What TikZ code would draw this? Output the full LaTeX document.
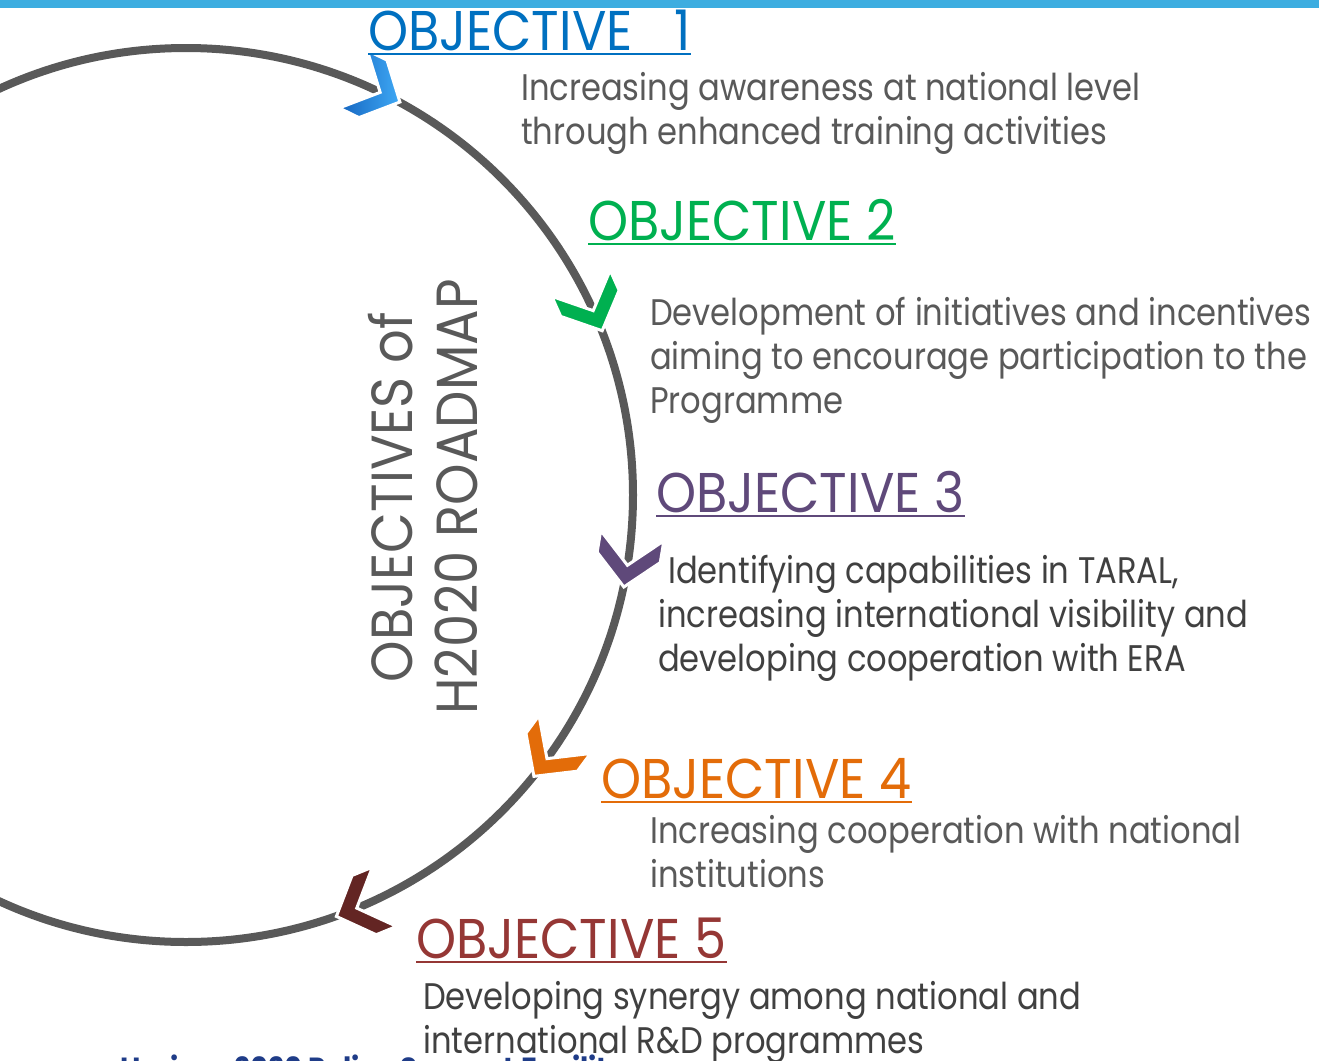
\documentclass[tikz,border=0pt]{standalone}
\usepackage{fontspec}
\setmainfont{Poppins}
\newfontfamily\headfont[FakeStretch=0.91]{Poppins}
\newfontfamily\bodyfont[FakeStretch=0.87]{Poppins}
\definecolor{barblue}{HTML}{3DADE0}
\definecolor{ringgray}{HTML}{595959}
\definecolor{txtgray}{HTML}{595959}
\definecolor{txtdark}{HTML}{404040}
\definecolor{oblue}{HTML}{0070C0}
\definecolor{ogreen}{HTML}{00B050}
\definecolor{opurple}{HTML}{5F497A}
\definecolor{oorange}{HTML}{E36C09}
\definecolor{ored}{HTML}{953735}
\definecolor{cbluelight}{HTML}{3FA9F5}
\definecolor{cbluedark}{HTML}{1565C0}
\definecolor{cgreen}{HTML}{00B050}
\definecolor{cpurple}{HTML}{5F497A}
\definecolor{corange}{HTML}{E36C09}
\definecolor{cred}{HTML}{632523}
\definecolor{footblue}{HTML}{1F3C88}
\tikzset{
  ring/.style={draw=ringgray, line width=8pt},
  heading/.style={anchor=base west, inner sep=0pt, font=\headfont\fontsize{56}{60}\selectfont},
  desc/.style={anchor=base west, inner sep=0pt, align=left, text=txtgray, font=\bodyfont\fontsize{37}{44}\selectfont},
  chev/.style={draw=white, line width=3pt, line join=miter},
  uline/.style={line width=2pt}
}
\begin{document}
\begin{tikzpicture}[x=1pt,y=-1pt]
\useasboundingbox (0,0) rectangle (1319,1060);
\fill[white] (0,0) rectangle (1319,1060);
\fill[barblue] (0,0) rectangle (1319,8);
\coordinate (C) at (186,495);
\draw[ring] (C) circle[radius=447];
% chevrons
\begin{scope}[shift={(C)}, rotate=64]
  \filldraw[chev, left color=cbluedark, right color=cbluelight] (447,20) -- (479,-10) -- (479,-32) -- (447,-2) -- (415,-32) -- (415,-10) -- cycle;
\end{scope}
\foreach \ang/\col in {24.1/cgreen, -9.3/cpurple, -36.4/corange, -67.8/cred} {
  \begin{scope}[shift={(C)}, rotate=\ang]
    \filldraw[chev, fill=\col] (447,20) -- (479,-10) -- (479,-32) -- (447,-2) -- (415,-32) -- (415,-10) -- cycle;
  \end{scope}
}
% headings
\node[heading, text=oblue] (h1) at (368,50) {OBJECTIVE \hspace{28pt}1};
\node[heading, text=ogreen] (h2) at (588,240) {OBJECTIVE 2};
\node[heading, text=opurple] (h3) at (656,512) {OBJECTIVE 3};
\node[heading, text=oorange] (h4) at (601,798) {OBJECTIVE 4};
\node[heading, text=ored] (h5) at (416,958) {OBJECTIVE 5};
\draw[uline, oblue] ([yshift=-4pt]h1.base west) -- ([yshift=-4pt]h1.base east);
\draw[uline, ogreen] ([yshift=-4pt]h2.base west) -- ([yshift=-4pt]h2.base east);
\draw[uline, opurple] ([yshift=-4pt]h3.base west) -- ([yshift=-4pt]h3.base east);
\draw[uline, oorange] ([yshift=-4pt]h4.base west) -- ([yshift=-4pt]h4.base east);
\draw[uline, ored] ([yshift=-4pt]h5.base west) -- ([yshift=-4pt]h5.base east);
% descriptions (anchor = baseline of last line)
\node[desc] (d1) at (521,144) {Increasing awareness at national level\\through enhanced training activities};
\node[desc] (d2) at (650,413) {Development of initiatives and incentives\\aiming to encourage participation to the\\Programme};
\node[desc, text=txtdark] (d3) at (658,671) {\hspace{10pt}Identifying capabilities in TARAL,\\increasing international visibility and\\developing cooperation with ERA};
\node[desc] (d4) at (650,887) {Increasing cooperation with national\\institutions};
\node[desc, text=txtdark] (d5) at (423,1053) {Developing synergy among national and\\international R\&D programmes};
% rotated title
\node[rotate=90, align=center, inner sep=0pt, text=txtgray, font=\headfont\fontsize{58}{65}\selectfont] (title) at (423,497) {OBJECTIVES of\\H2020 ROADMAP};
% footer (cut off at the lower edge)
\node[anchor=base west, inner sep=0pt, text=footblue, font=\bodyfont\bfseries\fontsize{32}{36}\selectfont] (foot) at (120,1080) {Horizon 2020 Policy Support Facility};
\end{tikzpicture}
\end{document}
